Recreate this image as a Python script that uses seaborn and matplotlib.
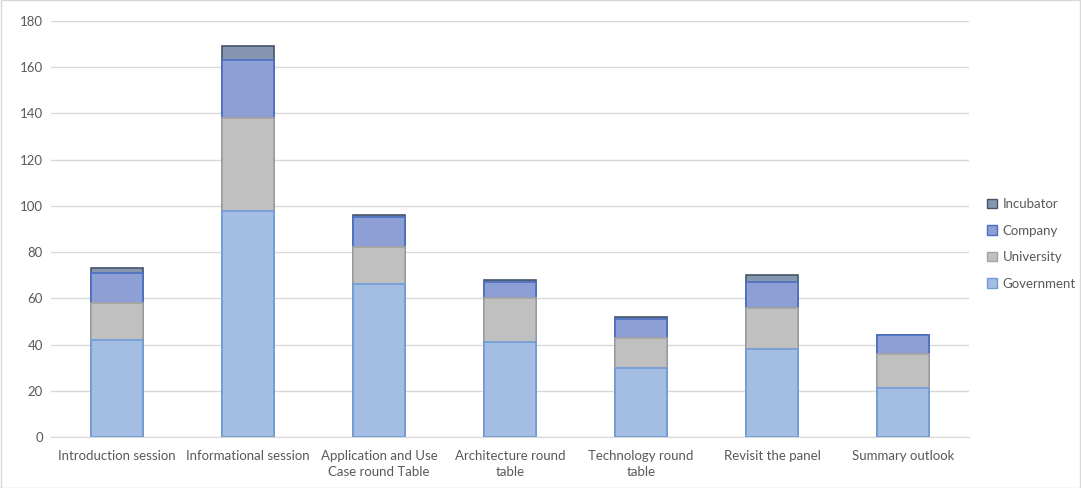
import numpy as np
import pandas as pd
import seaborn as sns
import matplotlib.pyplot as plt
from matplotlib.patches import Patch

sessions = ['Introduction session', 'Informational session', 'Application and Use\nCase round Table',
            'Architecture round\ntable', 'Technology round\ntable', 'Revisit the panel', 'Summary outlook']
government = [42, 98, 66, 41, 30, 38, 21]
university = [16, 40, 16, 19, 13, 18, 15]
company = [13, 25, 13, 7, 8, 11, 8]
incubator = [2, 6, 1, 1, 1, 3, 0]

series = ['Government', 'University', 'Company', 'Incubator']
values = [government, university, company, incubator]
faces = ['#a4bde3', '#c0c0c0', '#8e9fd6', '#8696b0']
edges = ['#6f9bd6', '#a3a3a3', '#4a6fc2', '#44546a']

sns.set_style('white')
plt.rcParams['font.family'] = ['Lato', 'DejaVu Sans']
fig = plt.figure(figsize=(10.81, 4.88), dpi=100)
ax = fig.add_axes([0.0476, 0.1045, 0.8484, 0.8525])

cum = np.cumsum(np.array(values), axis=0)
# draw tallest stack first so lower segments sit on top
for i in range(len(series) - 1, -1, -1):
    df = pd.DataFrame({'session': sessions, 'value': cum[i]})
    sns.barplot(data=df, x='session', y='value', color=faces[i], saturation=1,
                width=0.4, edgecolor=edges[i], linewidth=1.2, ax=ax, zorder=3)

ax.set_ylim(0, 180)
ax.set_xlim(-0.5, 6.5)
ax.set_yticks(range(0, 181, 20))
ax.yaxis.grid(True, color='#d9d9d9', linewidth=1, zorder=0)
ax.set_axisbelow(True)
ax.set_xlabel('')
ax.set_ylabel('')
for s in ['top', 'right', 'left']:
    ax.spines[s].set_visible(False)
ax.spines['bottom'].set_color('#d9d9d9')
ax.tick_params(axis='both', length=0, labelsize=9.5, colors='#595959', pad=6)
ax.tick_params(axis='x', pad=9)
for lbl in ax.get_xticklabels():
    lbl.set_linespacing(1.45)

handles = [Patch(facecolor=faces[i], edgecolor=edges[i], label=series[i]) for i in range(3, -1, -1)]
fig.legend(handles=handles, loc='center left', bbox_to_anchor=(0.902, 0.5), frameon=False,
           fontsize=9.5, labelcolor='#595959', handlelength=0.75, handleheight=0.75,
           handletextpad=0.45, labelspacing=1.1)

fig.patches.append(plt.Rectangle((0.001, 0.001), 0.998, 0.998, transform=fig.transFigure,
                                 fill=False, edgecolor='#d9d9d9', linewidth=1))
fig.savefig('out.png', dpi=100)
